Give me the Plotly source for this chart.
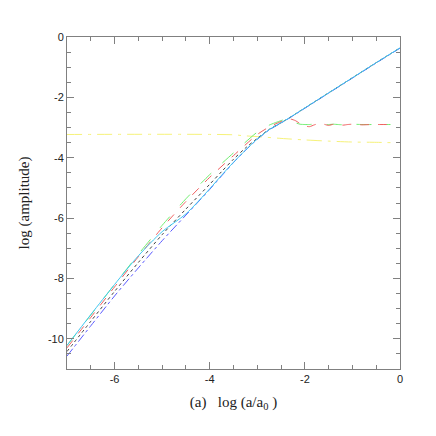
import plotly.graph_objects as go

# log(a/a0) sample points
x_main = [-7.0, -6.5, -6.0, -5.5, -5.0, -4.5, -4.0, -3.75, -3.5, -3.25,
          -3.0, -2.75, -2.5, -2.35, -2.0, -1.5, -1.0, -0.5, 0.0]
cyan_y = [-10.22, -9.2, -8.2, -7.25, -6.45, -5.86, -5.03, -4.58, -4.15, -3.75,
          -3.38, -3.07, -2.84, -2.7, -2.35, -1.85, -1.35, -0.85, -0.36]
blue_y = [-10.57, -9.57, -8.58, -7.65, -6.75, -5.9, -5.05, -4.6, -4.16, -3.76,
          -3.39, -3.08, -2.85, -2.71, -2.36, -1.86, -1.36, -0.86, -0.37]
black_y = [-10.42, -9.42, -8.43, -7.47, -6.55, -5.7, -4.88, -4.46, -4.05, -3.68,
           -3.36, -3.06, -2.84, -2.7, -2.35, -1.85, -1.35, -0.85, -0.36]

x_osc = [-7.0, -6.5, -6.0, -5.5, -5.0, -4.5, -4.0, -3.5, -3.0, -2.75, -2.5, -2.4, -2.3,
         -2.2, -2.1, -2.0, -1.9, -1.8, -1.7, -1.6, -1.5, -1.4, -1.3, -1.2, -1.1, -1.0,
         -0.8, -0.6, -0.4, -0.2]
green_y = [-10.22, -9.21, -8.2, -7.2, -6.24, -5.36, -4.56, -3.84, -3.15, -2.92, -2.77, -2.72,
           -2.75, -2.84, -2.89, -2.9, -2.9, -2.88, -2.89, -2.9, -2.9, -2.89, -2.9, -2.91,
           -2.9, -2.89, -2.9, -2.9, -2.9, -2.9]
red_y = [-10.3, -9.29, -8.28, -7.28, -6.32, -5.45, -4.65, -3.93, -3.23, -2.98, -2.8, -2.74,
         -2.72, -2.77, -2.87, -2.95, -2.97, -2.91, -2.87, -2.89, -2.93, -2.89, -2.88, -2.92,
         -2.9, -2.89, -2.91, -2.9, -2.9, -2.9]

x_yel = [-7.0, -3.5, -3.3, -3.0, -2.5, -2.0, -1.5, -1.0, -0.5, -0.2]
yellow_y = [-3.23, -3.24, -3.27, -3.3, -3.36, -3.41, -3.45, -3.48, -3.49, -3.5]

y_ticks = [0, -2, -4, -6, -8, -10]
x_ticks = [-6, -4, -2, 0]

fig = go.Figure()
def add(x, y, color, dash, smooth=0.8):
    fig.add_trace(go.Scatter(x=x, y=y, mode="lines",
                             line=dict(color=color, width=1, dash=dash, shape="spline", smoothing=smooth),
                             showlegend=False, hoverinfo="skip"))

add(x_yel, yellow_y, "#f6f27a", "longdashdot")
add(x_main, blue_y, "#5a5aff", "dashdot")
add(x_main, black_y, "#404040", "dot")
add(x_osc, green_y, "#70ee70", "longdash", 0.6)
add(x_osc, red_y, "#f06060", "dash", 0.6)
add(x_main, cyan_y, "#40c8f0", "solid")

axis_common = dict(showgrid=False, zeroline=False, showline=True, linecolor="#808080",
                   linewidth=1, mirror="ticks", ticks="inside", ticklen=7, tickcolor="#808080",
                   tickfont=dict(family="Liberation Sans, Arial", size=11, color="#222"))

fig.update_xaxes(range=[-7, 0], tickvals=x_ticks, ticktext=[str(v) for v in x_ticks],
                 minor=dict(dtick=0.5, ticklen=4, ticks="inside", tickcolor="#808080"),
                 title=dict(text="(a)\u00a0\u00a0 log (a/a<sub>0</sub> )",
                            font=dict(family="Liberation Serif, Times New Roman", size=15, color="#222"),
                            standoff=12),
                 **axis_common)
fig.update_yaxes(range=[-11, 0], tickvals=y_ticks, ticktext=[str(v) for v in y_ticks],
                 minor=dict(dtick=0.5, ticklen=4, ticks="inside", tickcolor="#808080"),
                 title=dict(text="log (amplitude)",
                            font=dict(family="Liberation Serif, Times New Roman", size=15, color="#222"),
                            standoff=14),
                 **axis_common)

fig.update_layout(width=436, height=436, margin=dict(l=59, r=44, t=29, b=75),
                  paper_bgcolor="white", plot_bgcolor="white")
fig.write_html("out.html")
